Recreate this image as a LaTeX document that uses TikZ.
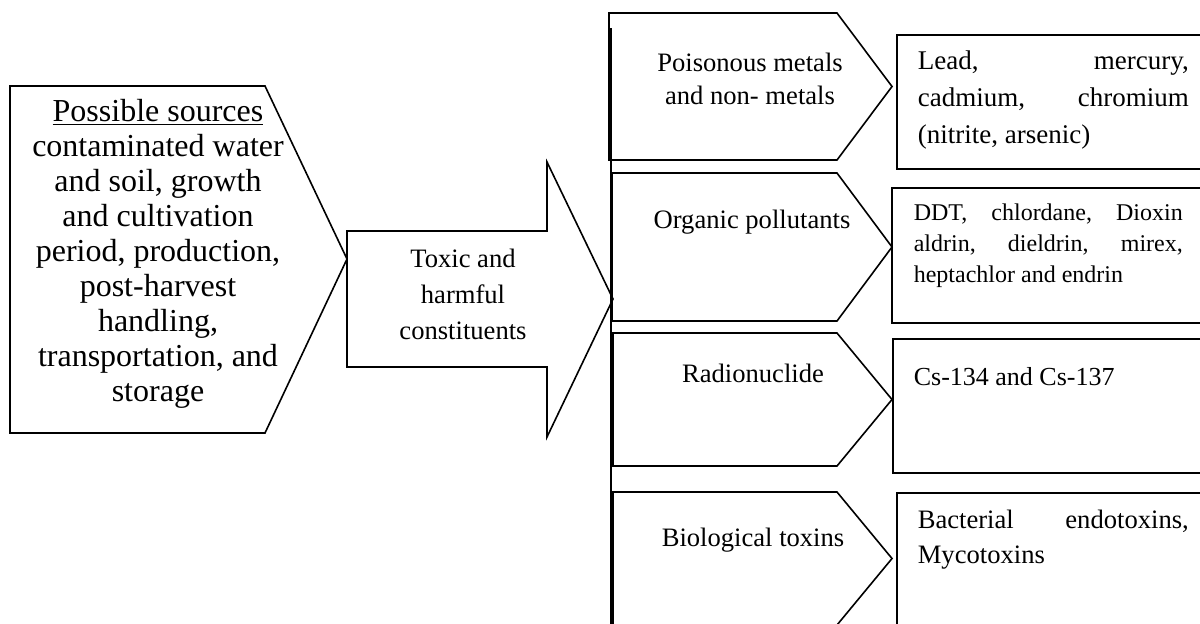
\documentclass[tikz,border=0pt]{standalone}
\usepackage{fontspec}
\setmainfont{Liberation Serif}
\begin{document}
\begin{tikzpicture}[x=0.5pt, y=-0.5pt, line width=0.8pt,
    lbl/.style={inner sep=0pt, align=center},
    big/.style={font=\fontsize{16}{17.5}\selectfont},
    med/.style={font=\fontsize{13.3}{16.5}\selectfont},
    txt/.style={inner sep=0pt, anchor=west, text width=135.5pt, align=justify}]
    \useasboundingbox (0,0) rectangle (1200,623);
    \clip (0,0) rectangle (1200,623);

    % Possible sources
    \coordinate (sa) at (10,86); \coordinate (sb) at (265,86);
    \coordinate (sc) at (347,259); \coordinate (sd) at (265,433);
    \coordinate (se) at (10,433);
    \draw (sa)--(sb)--(sc)--(sd)--(se)--cycle;
    \node[big, lbl] (src) at (158,254) {\underline{Possible sources}\\contaminated water\\and soil, growth\\and cultivation\\period, production,\\post-harvest\\handling,\\transportation, and\\storage};

    % Toxic and harmful constituents
    \coordinate (ta) at (347,231); \coordinate (tb) at (547,231);
    \coordinate (tc) at (547,162); \coordinate (td) at (613,299);
    \coordinate (te) at (547,437); \coordinate (tf) at (547,367);
    \coordinate (tg) at (347,367);
    \draw (ta)--(tb)--(tc)--(td)--(te)--(tf)--(tg)--cycle;
    \node[lbl, font=\fontsize{13.3}{18}\selectfont] (tox) at (463,294) {Toxic and\\harmful\\constituents};

    % groups
    \draw[line width=1.2pt] (611,28) -- (611,640);
    \foreach \l/\t/\b in {609/13/160, 612/173/321, 613/333/466, 613/492/625}
        \draw (\l,\t) -- (837,\t) -- (892,{(\t+\b)/2}) -- (837,\b) -- (\l,\b) -- cycle;
    \node[med, lbl] (metals) at (750,79) {Poisonous metals\\and non- metals};
    \node[med, lbl] (organic) at (752,222) {Organic pollutants};
    \node[med, lbl] (radio) at (753,373) {Radionuclide};
    \node[med, lbl] (bio) at (753,540) {Biological toxins};

    % examples
    \foreach \l/\t/\b in {897/35/169, 892/188/323, 893/339/473, 897/493/640}
        \draw (\l,\t) rectangle (1210,\b);
    \node[txt, font=\fontsize{13.5}{18.5}\selectfont] (metalsx) at (917,100) {Lead,\hfill mercury,\\cadmium,\hfill chromium\\(nitrite, arsenic)};
    \node[txt, text width=134.5pt, font=\fontsize{12}{15.5}\selectfont] (organicx) at (913,246) {DDT,\hfill chlordane,\hfill Dioxin\\aldrin,\hfill dieldrin,\hfill mirex,\\heptachlor and endrin};
    \node[txt, font=\fontsize{13}{16}\selectfont] (radiox) at (913,377) {Cs-134 and Cs-137};
    \node[txt, font=\fontsize{13.3}{17.5}\selectfont] (biox) at (917,540) {Bacterial\hfill endotoxins,\\Mycotoxins};
\end{tikzpicture}
\end{document}
